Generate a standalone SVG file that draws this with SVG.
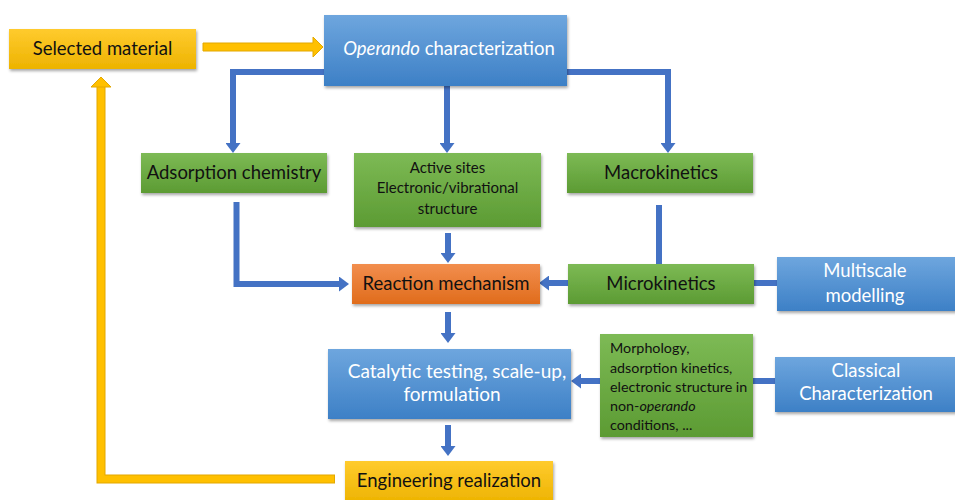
<svg xmlns="http://www.w3.org/2000/svg" width="955" height="500" viewBox="0 0 955 500">
<defs>
<linearGradient id="gBlue" x1="0" y1="0" x2="0" y2="1"><stop offset="0" stop-color="#6EA6DE"/><stop offset="1" stop-color="#3D80C6"/></linearGradient>
<linearGradient id="gGreen" x1="0" y1="0" x2="0" y2="1"><stop offset="0" stop-color="#7DBA55"/><stop offset="1" stop-color="#5C9B33"/></linearGradient>
<linearGradient id="gOrange" x1="0" y1="0" x2="0" y2="1"><stop offset="0" stop-color="#F28E4E"/><stop offset="1" stop-color="#E06C1C"/></linearGradient>
<linearGradient id="gYellow" x1="0" y1="0" x2="0" y2="1"><stop offset="0" stop-color="#FFCB2E"/><stop offset="1" stop-color="#EDB300"/></linearGradient>
<filter id="sh" x="-10%" y="-10%" width="125%" height="140%"><feDropShadow dx="1" dy="2" stdDeviation="1.5" flood-color="#000" flood-opacity="0.35"/></filter>
<marker id="ab" markerUnits="userSpaceOnUse" markerWidth="10" markerHeight="15" viewBox="0 0 10 15" refX="0" refY="7.5" orient="auto"><path d="M0,0 L10,7.5 L0,15 Z" fill="#4472C4"/></marker>
<style>
.c{fill:none;stroke:#4472C4;stroke-width:6}
.t{font-family:Lato,"Open Sans","Liberation Sans",sans-serif;text-anchor:middle;font-size:18.5px}
.w{fill:#fff}
.k{fill:#111}
</style>
</defs>
<g id="connectors">
<path class="c" d="M330 72 H233 V143" marker-end="url(#ab)"/>
<path class="c" d="M447 86 V143" marker-end="url(#ab)"/>
<path class="c" d="M560 72 H668 V143" marker-end="url(#ab)"/>
<path class="c" d="M236.5 202 V284 H339" marker-end="url(#ab)"/>
<path class="c" d="M448 233 V253" marker-end="url(#ab)"/>
<path class="c" d="M659 205 V266"/>
<path class="c" d="M570 283 H549" marker-end="url(#ab)"/>
<path class="c" d="M752 283 H779"/>
<path class="c" d="M448 312 V333" marker-end="url(#ab)"/>
<path class="c" d="M602 381 H581" marker-end="url(#ab)"/>
<path class="c" d="M751 381 H777"/>
<path class="c" d="M448 425 V446" marker-end="url(#ab)"/>
<polygon points="203,43 313,43 313,37 323,47 313,57 313,51 203,51" fill="#FFC000" stroke="#E3A800" stroke-width="1"/>
<path d="M335 479 H101 V87" fill="none" stroke="#E3A800" stroke-width="9"/>
<path d="M334 479 H101 V87" fill="none" stroke="#FFC000" stroke-width="7"/>
<polygon points="91,87 101,77 111,87" fill="#FFC000" stroke="#E3A800" stroke-width="1"/>
</g>
<g id="selected-material"><rect x="9" y="29" width="187" height="40" fill="url(#gYellow)" filter="url(#sh)"/><text class="t k" x="102.5" y="55">Selected material</text></g>
<g id="operando"><rect x="324" y="15" width="243" height="71" fill="url(#gBlue)" filter="url(#sh)"/><text class="t w" x="449" y="55"><tspan font-style="italic">Operando</tspan> characterization</text></g>
<g id="adsorption"><rect x="141" y="153" width="186" height="40" fill="url(#gGreen)" filter="url(#sh)"/><text class="t k" x="234" y="179">Adsorption chemistry</text></g>
<g id="active-sites"><rect x="354" y="153" width="187" height="74" fill="url(#gGreen)" filter="url(#sh)"/><text class="t k" style="font-size:15px"><tspan x="447.5" y="173">Active sites</tspan><tspan x="447.5" y="193">Electronic/vibrational</tspan><tspan x="447.5" y="214">structure</tspan></text></g>
<g id="macrokinetics"><rect x="567" y="153" width="186" height="40" fill="url(#gGreen)" filter="url(#sh)"/><text class="t k" x="661" y="179">Macrokinetics</text></g>
<g id="reaction-mechanism"><rect x="352" y="264" width="188" height="40" fill="url(#gOrange)" filter="url(#sh)"/><text class="t k" x="446" y="290">Reaction mechanism</text></g>
<g id="microkinetics"><rect x="568" y="264" width="186" height="40" fill="url(#gGreen)" filter="url(#sh)"/><text class="t k" x="661" y="290">Microkinetics</text></g>
<g id="multiscale"><rect x="777" y="257" width="180" height="54" fill="url(#gBlue)" filter="url(#sh)"/><text class="t w"><tspan x="865" y="277">Multiscale</tspan><tspan x="865" y="302">modelling</tspan></text></g>
<g id="catalytic"><rect x="328" y="349" width="243" height="70" fill="url(#gBlue)" filter="url(#sh)"/><text class="t w" style="font-size:19px"><tspan x="457" y="378">Catalytic testing, scale-up,</tspan><tspan x="452" y="401">formulation</tspan></text></g>
<g id="morphology"><rect x="600" y="334" width="153" height="103" fill="url(#gGreen)" filter="url(#sh)"/><text class="k" font-family="Lato,'Open Sans','Liberation Sans',sans-serif" font-size="14.3"><tspan x="610" y="353">Morphology,</tspan><tspan x="610" y="373">adsorption kinetics,</tspan><tspan x="610" y="392">electronic structure in</tspan><tspan x="610" y="411">non-<tspan font-style="italic">operando</tspan></tspan><tspan x="610" y="430">conditions, ...</tspan></text></g>
<g id="classical"><rect x="775" y="357" width="182" height="55" fill="url(#gBlue)" filter="url(#sh)"/><text class="t w"><tspan x="866" y="377">Classical</tspan><tspan x="866" y="400">Characterization</tspan></text></g>
<g id="engineering"><rect x="345" y="461" width="208" height="42" fill="url(#gYellow)" filter="url(#sh)"/><text class="t k" x="449" y="487">Engineering realization</text></g>
</svg>
